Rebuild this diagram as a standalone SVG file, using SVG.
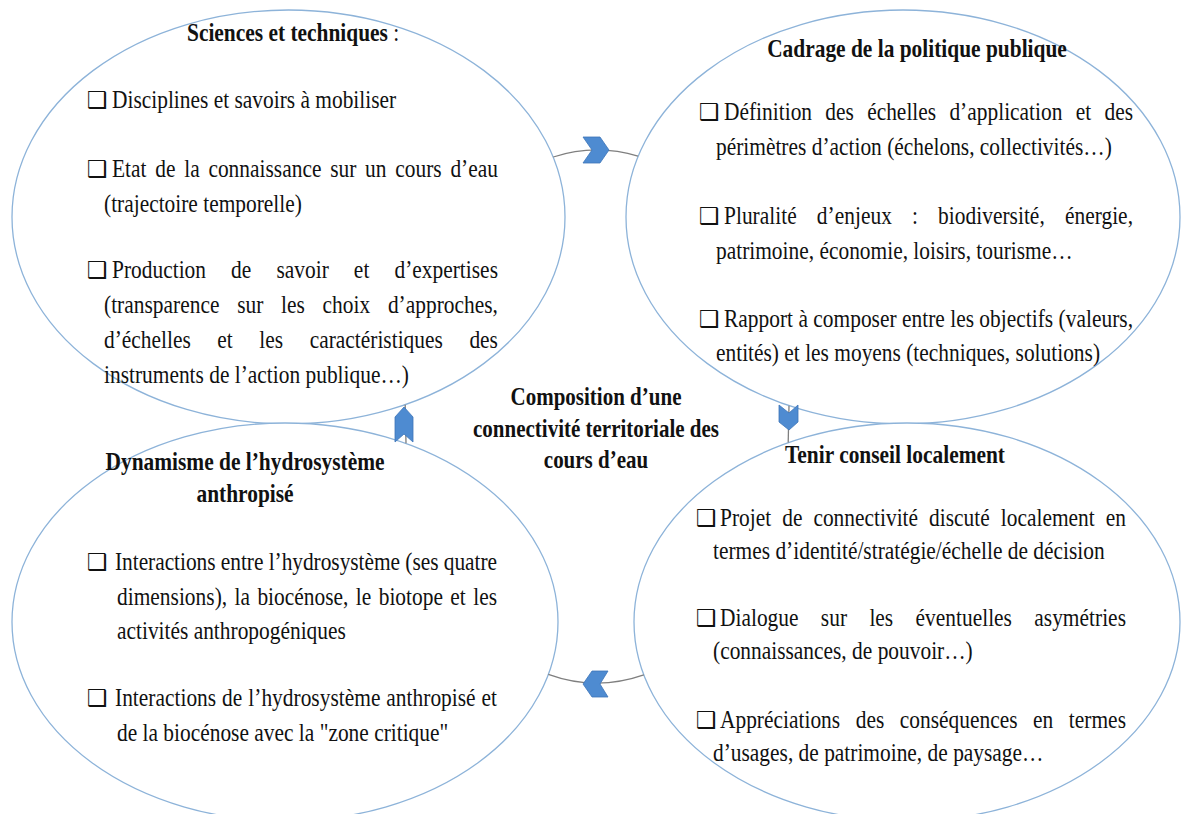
<svg xmlns="http://www.w3.org/2000/svg" width="1182" height="814" viewBox="0 0 1182 814">
<style>
.nd{fill:#fff;stroke:#8db3d9;stroke-width:1.3}
.t{font-family:"Liberation Serif","Times New Roman",serif;font-size:25.5px;fill:#111}
.b{font-weight:bold}
.bx{font-family:"DejaVu Sans",sans-serif;font-size:23px;fill:#111}
.cyc{fill:none;stroke:#7f7f7f;stroke-width:1.3}
.chev{fill:#4e8bd1;stroke:#3d75b8;stroke-width:0.8}
</style>
<rect width="1182" height="814" fill="#fff"/>

<g id="n-sciences">
<ellipse class="nd" cx="288.5" cy="217" rx="276.5" ry="207"/>
<text class="t" transform="matrix(0.84 0 0 1 187 41)"><tspan class="b">Sciences et techniques</tspan> :</text>
<text class="bx" x="87" y="108">❑</text>
<text class="t" transform="matrix(0.84 0 0 1 112 108)">Disciplines et savoirs à mobiliser</text>
<text class="bx" x="87" y="177">❑</text>
<text class="t" transform="matrix(0.84 0 0 1 112 177)" word-spacing="4" textLength="459.5" lengthAdjust="spacing">Etat de la connaissance sur un cours d’eau</text>
<text class="t" transform="matrix(0.84 0 0 1 104 212)">(trajectoire temporelle)</text>
<text class="bx" x="87" y="278">❑</text>
<text class="t" transform="matrix(0.84 0 0 1 112 278)" word-spacing="23.5" textLength="459.5" lengthAdjust="spacing">Production de savoir et d’expertises</text>
<text class="t" transform="matrix(0.84 0 0 1 104 313)" word-spacing="14.7" textLength="469" lengthAdjust="spacing">(transparence sur les choix d’approches,</text>
<text class="t" transform="matrix(0.84 0 0 1 104 348)" word-spacing="25.2" textLength="469" lengthAdjust="spacing">d’échelles et les caractéristiques des</text>
<text class="t" transform="matrix(0.84 0 0 1 104 383)">instruments de l’action publique…)</text>
</g>

<g id="n-cadrage">
<ellipse class="nd" cx="903" cy="217" rx="277" ry="207"/>
<text class="t b" text-anchor="middle" transform="matrix(0.84 0 0 1 917 57)">Cadrage de la politique publique</text>
<text class="bx" x="699" y="120">❑</text>
<text class="t" transform="matrix(0.84 0 0 1 724 120)" word-spacing="9.4" textLength="486.9" lengthAdjust="spacing">Définition des échelles d’application et des</text>
<text class="t" transform="matrix(0.84 0 0 1 716 155)">périmètres d’action (échelons, collectivités…)</text>
<text class="bx" x="699" y="224">❑</text>
<text class="t" transform="matrix(0.84 0 0 1 724 224)" word-spacing="17.6" textLength="486.9" lengthAdjust="spacing">Pluralité d’enjeux : biodiversité, énergie,</text>
<text class="t" transform="matrix(0.84 0 0 1 716 259)">patrimoine, économie, loisirs, tourisme…</text>
<text class="bx" x="699" y="327">❑</text>
<text class="t" transform="matrix(0.84 0 0 1 724 327)" textLength="486.9" lengthAdjust="spacing">Rapport à composer entre les objectifs (valeurs,</text>
<text class="t" transform="matrix(0.84 0 0 1 716 361)">entités) et les moyens (techniques, solutions)</text>
</g>

<g id="n-dynamisme">
<ellipse class="nd" cx="285" cy="622" rx="273" ry="199"/>
<text class="t b" text-anchor="middle" transform="matrix(0.84 0 0 1 245 470)">Dynamisme de l’hydrosystème</text>
<text class="t b" text-anchor="middle" transform="matrix(0.84 0 0 1 245 502)">anthropisé</text>
<text class="bx" x="87" y="570">❑</text>
<text class="t" transform="matrix(0.84 0 0 1 115 570)" textLength="454.8" lengthAdjust="spacing">Interactions entre l’hydrosystème (ses quatre</text>
<text class="t" transform="matrix(0.84 0 0 1 117 605)" word-spacing="2.4" textLength="452.4" lengthAdjust="spacing">dimensions), la biocénose, le biotope et les</text>
<text class="t" transform="matrix(0.84 0 0 1 117 639)">activités anthropogéniques</text>
<text class="bx" x="87" y="706">❑</text>
<text class="t" transform="matrix(0.84 0 0 1 115 706)" word-spacing="0.7" textLength="454.8" lengthAdjust="spacing">Interactions de l’hydrosystème anthropisé et</text>
<text class="t" transform="matrix(0.84 0 0 1 117 741)">de la biocénose avec la "zone critique"</text>
</g>

<g id="n-conseil">
<ellipse class="nd" cx="907" cy="622" rx="273" ry="199"/>
<text class="t b" text-anchor="middle" transform="matrix(0.84 0 0 1 895 463)">Tenir conseil localement</text>
<text class="bx" x="696" y="526">❑</text>
<text class="t" transform="matrix(0.84 0 0 1 720 526)" word-spacing="6.7" textLength="483.3" lengthAdjust="spacing">Projet de connectivité discuté localement en</text>
<text class="t" transform="matrix(0.84 0 0 1 713 559)">termes d’identité/stratégie/échelle de décision</text>
<text class="bx" x="696" y="626">❑</text>
<text class="t" transform="matrix(0.84 0 0 1 720 626)" word-spacing="20.2" textLength="483.3" lengthAdjust="spacing">Dialogue sur les éventuelles asymétries</text>
<text class="t" transform="matrix(0.84 0 0 1 713 659)">(connaissances, de pouvoir…)</text>
<text class="bx" x="696" y="728">❑</text>
<text class="t" transform="matrix(0.84 0 0 1 720 728)" word-spacing="12.1" textLength="483.3" lengthAdjust="spacing">Appréciations des conséquences en termes</text>
<text class="t" transform="matrix(0.84 0 0 1 713 761)">d’usages, de patrimoine, de paysage…</text>
</g>

<g id="center-label">
<text class="t b" style="font-size:25px" text-anchor="middle" transform="matrix(0.84 0 0 1 596 405)">Composition d’une</text>
<text class="t b" style="font-size:25px" text-anchor="middle" transform="matrix(0.84 0 0 1 596 437)">connectivité territoriale des</text>
<text class="t b" style="font-size:25px" text-anchor="middle" transform="matrix(0.84 0 0 1 596 468)">cours d’eau</text>
</g>

<g id="connectors">
<path class="cyc" d="M553.3,157 A192,266.5 0 0 1 638,156.2"/>
<path class="cyc" d="M789,405.7 L788.2,442.6"/>
<path class="cyc" d="M643.8,674.9 A192,266.5 0 0 1 548.3,674.3"/>
<path class="cyc" d="M406,443.3 L405.2,404.7"/>
<path class="chev" d="M583,137 L600,137 L609,150 L600,163 L583,163 L592,150 Z"/>
<path class="chev" d="M779,405 L789,413 L798,405 L798,422 L789,430 L779,422 Z"/>
<path class="chev" d="M608,671 L592,671 L583,684 L592,697 L608,697 L600,684 Z"/>
<path class="chev" d="M395,442 L404,434 L413,442 L413,417 L404,407 L395,417 Z"/>
</g>
</svg>
